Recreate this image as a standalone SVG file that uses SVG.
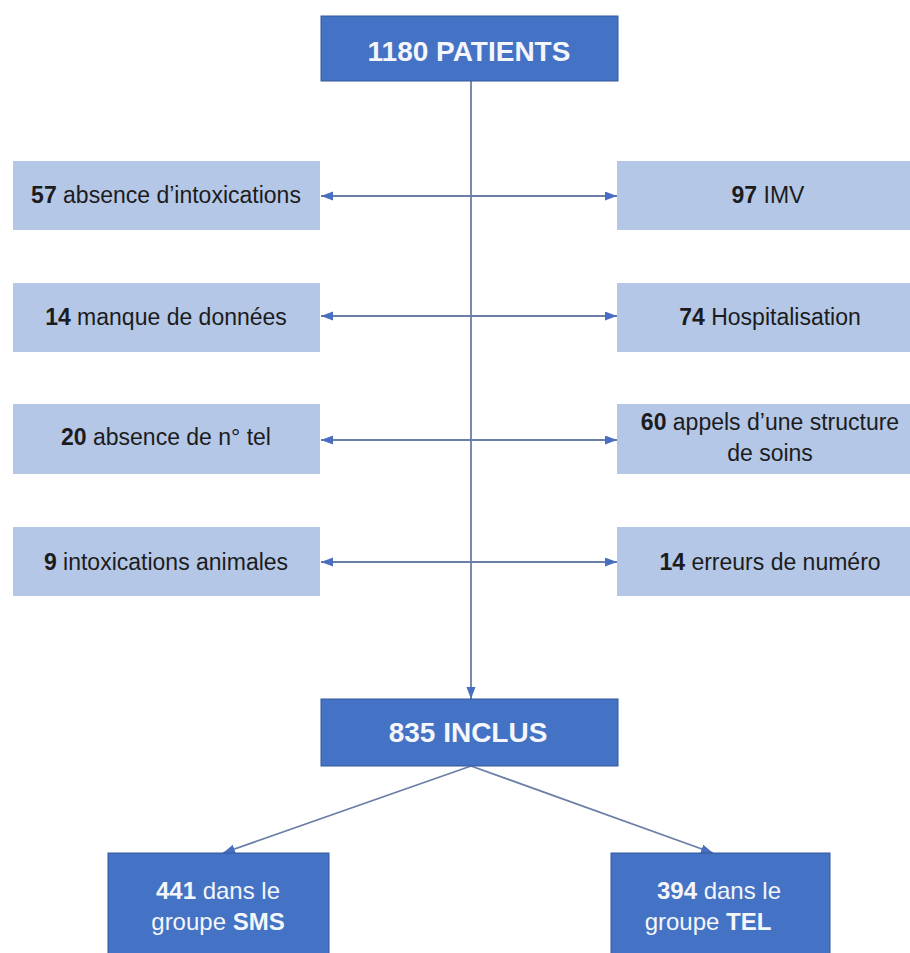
<svg xmlns="http://www.w3.org/2000/svg" width="910" height="953" viewBox="0 0 910 953">
<style>
.dark{fill:#4472c4;stroke:#35599b;stroke-width:1}
.light{fill:#b4c7e7}
.tw{font-family:"Liberation Sans",Arial,sans-serif;fill:#f4f6fb;text-anchor:middle}
.tb{font-family:"Liberation Sans",Arial,sans-serif;fill:#1c1c1c;font-size:23px;text-anchor:middle}
.big{font-size:28px;font-weight:bold}
.mid{font-size:24px}
.b{font-weight:bold}
.conn{stroke:#6a7fa6;stroke-width:1.8;fill:none}
</style>
<defs>
<marker id="ah" markerUnits="userSpaceOnUse" markerWidth="13" markerHeight="10" refX="12" refY="4.5" orient="auto">
<path d="M0,0 L12,4.5 L0,9 z" fill="#4a6ebf"/>
</marker>
</defs>
<rect width="910" height="953" fill="#ffffff"/>
<g id="connectors">
<line class="conn" x1="471" y1="81" x2="471" y2="699" marker-end="url(#ah)"/>
<line class="conn" x1="471" y1="196" x2="321" y2="196" marker-end="url(#ah)"/>
<line class="conn" x1="471" y1="196" x2="617" y2="196" marker-end="url(#ah)"/>
<line class="conn" x1="471" y1="316" x2="321" y2="316" marker-end="url(#ah)"/>
<line class="conn" x1="471" y1="316" x2="617" y2="316" marker-end="url(#ah)"/>
<line class="conn" x1="471" y1="440" x2="321" y2="440" marker-end="url(#ah)"/>
<line class="conn" x1="471" y1="440" x2="617" y2="440" marker-end="url(#ah)"/>
<line class="conn" x1="471" y1="562" x2="321" y2="562" marker-end="url(#ah)"/>
<line class="conn" x1="471" y1="562" x2="617" y2="562" marker-end="url(#ah)"/>
<line class="conn" x1="471" y1="766" x2="223" y2="853" marker-end="url(#ah)"/>
<line class="conn" x1="471" y1="766" x2="713" y2="853" marker-end="url(#ah)"/>
</g>
<g id="patients">
<rect class="dark" x="321" y="16" width="297" height="65"/>
<text class="tw big" x="469" y="61">1180 PATIENTS</text>
</g>
<g id="absence-intox">
<rect class="light" x="13" y="161" width="307" height="69"/>
<text class="tb" x="166" y="203"><tspan class="b">57</tspan> absence d’intoxications</text>
</g>
<g id="imv">
<rect class="light" x="617" y="161" width="306" height="69"/>
<text class="tb" x="768" y="203"><tspan class="b">97</tspan> IMV</text>
</g>
<g id="manque-donnees">
<rect class="light" x="13" y="283" width="307" height="69"/>
<text class="tb" x="166" y="325"><tspan class="b">14</tspan> manque de données</text>
</g>
<g id="hospitalisation">
<rect class="light" x="617" y="283" width="306" height="69"/>
<text class="tb" x="770" y="325"><tspan class="b">74</tspan> Hospitalisation</text>
</g>
<g id="absence-tel">
<rect class="light" x="13" y="404" width="307" height="70"/>
<text class="tb" x="166" y="445"><tspan class="b">20</tspan> absence de n° tel</text>
</g>
<g id="appels-structure">
<rect class="light" x="617" y="404" width="306" height="70"/>
<text class="tb" x="770" y="430"><tspan class="b">60</tspan> appels d’une structure</text>
<text class="tb" x="770" y="461">de soins</text>
</g>
<g id="intox-animales">
<rect class="light" x="13" y="527" width="307" height="69"/>
<text class="tb" x="166" y="570"><tspan class="b">9</tspan> intoxications animales</text>
</g>
<g id="erreurs-numero">
<rect class="light" x="617" y="527" width="306" height="69"/>
<text class="tb" x="770" y="570"><tspan class="b">14</tspan> erreurs de numéro</text>
</g>
<g id="inclus">
<rect class="dark" x="321" y="699" width="297" height="67"/>
<text class="tw big" x="468" y="742">835 INCLUS</text>
</g>
<g id="groupe-sms">
<rect class="dark" x="108" y="853" width="221" height="110"/>
<text class="tw mid" x="218" y="899"><tspan class="b">441</tspan> dans le</text>
<text class="tw mid" x="218" y="930">groupe <tspan class="b">SMS</tspan></text>
</g>
<g id="groupe-tel">
<rect class="dark" x="611" y="853" width="219" height="110"/>
<text class="tw mid" x="719" y="899"><tspan class="b">394</tspan> dans le</text>
<text class="tw mid" x="708" y="930">groupe <tspan class="b">TEL</tspan></text>
</g>
</svg>
